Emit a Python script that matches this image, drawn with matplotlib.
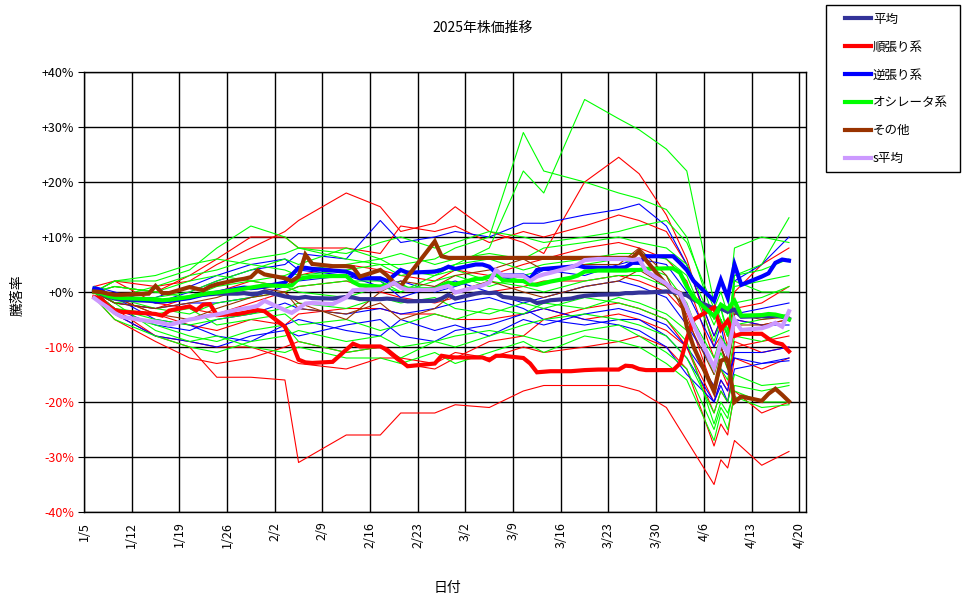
import datetime as dt
import matplotlib.pyplot as plt
from matplotlib.patches import Rectangle

plt.rcParams['font.family'] = ['Noto Sans CJK JP', 'DejaVu Sans']

# 営業日 (太線用)
days = ["1/6", "1/7", "1/8", "1/9", "1/10",
        "1/14", "1/15", "1/16", "1/17",
        "1/20", "1/21", "1/22", "1/23", "1/24",
        "1/27", "1/28", "1/29", "1/30", "1/31",
        "2/3", "2/4", "2/5", "2/6", "2/7",
        "2/10", "2/12", "2/13", "2/14",
        "2/17", "2/18", "2/19", "2/20", "2/21",
        "2/25", "2/26", "2/27", "2/28",
        "3/3", "3/4", "3/5", "3/6", "3/7",
        "3/10", "3/11", "3/12", "3/13", "3/14",
        "3/17", "3/18", "3/19", "3/21",
        "3/24", "3/25", "3/26", "3/27", "3/28",
        "3/31", "4/1", "4/2", "4/3", "4/4",
        "4/7", "4/8", "4/9", "4/10", "4/11",
        "4/14", "4/15", "4/16", "4/17", "4/18"]

heikin = [0.3, -0.3, -0.8, -1.2, -1.4,
          -1.6, -1.7, -1.7, -1.6,
          -1.0, -0.6, -0.5, -0.4, -0.3,
          -0.3, -0.2, -0.4, -0.3, 0.1,
          -0.8, -1.0, -1.1, -0.9, -1.1,
          -1.2, -0.9, -1.0, -1.3,
          -1.3, -1.2, -1.3, -1.5, -1.7,
          -1.6, -1.2, -0.5, -1.2,
          -0.3, -0.1, -0.2, -0.1, -0.9,
          -1.3, -1.4, -2.0, -1.8, -1.5,
          -1.2, -0.9, -0.7, -0.5,
          -0.4, -0.2, -0.2, -0.1, -0.1,
          0.1, 0.0, -0.3, -0.6, -1.4,
          -3.0, -3.0, -3.6, -3.2, -4.5,
          -4.4, -4.4, -4.3, -4.5, -4.9]

junbari = [-0.9, -1.2, -2.5, -3.3, -3.6,
           -3.9, -4.0, -4.3, -3.4,
           -2.6, -3.3, -2.3, -2.2, -4.2,
           -4.0, -3.8, -3.5, -3.3, -3.5,
           -6.3, -9.2, -12.3, -12.8, -12.9,
           -12.7, -10.5, -9.4, -9.9,
           -9.9, -10.5, -11.5, -12.5, -13.5,
           -13.0, -11.6, -11.8, -11.9,
           -11.9, -11.9, -12.4, -11.6, -11.6,
           -12.0, -13.0, -14.6, -14.5, -14.4,
           -14.4, -14.3, -14.2, -14.1,
           -14.1, -13.4, -13.5, -14.0, -14.2,
           -14.2, -14.2, -13.0, -8.5, -5.0,
           -2.8, -6.8, -5.2, -8.0, -7.6,
           -7.6, -8.5, -9.2, -9.5, -10.8]

gyakubari = [0.6, 0.3, -0.5, -1.0, -1.2,
             -1.5, -1.7, -1.7, -1.6,
             -1.1, -0.8, -0.5, -0.3, -0.1,
             0.6, 0.8, 0.7, 0.8, 1.0,
             1.7, 3.1, 4.4, 4.4, 4.2,
             3.9, 3.7, 3.2, 2.5,
             2.5, 2.0, 3.0, 4.0, 3.5,
             3.7, 4.0, 4.6, 4.2,
             5.0, 5.0, 4.6, 3.5, 3.0,
             3.0, 2.4, 4.0, 4.2, 4.3,
             4.6, 4.8, 4.5, 4.4,
             4.4, 4.5, 5.3, 5.3, 6.5,
             6.5, 6.5, 5.3, 4.0, 2.0,
             -1.6, 2.2, -1.0, 5.0, 1.3,
             2.8, 3.4, 5.3, 5.9, 5.7]

oscillator = [0.0, -0.2, -0.7, -1.0, -1.1,
              -1.3, -1.4, -1.5, -1.4,
              -0.9, -0.6, -0.4, -0.2, -0.1,
              0.4, 0.6, 0.8, 1.0, 1.2,
              1.1, 1.2, 2.4, 2.6, 2.8,
              2.9, 2.9, 1.8, 1.2,
              1.0, 1.2, 1.7, 1.2, 0.6,
              0.5, 1.2, 1.7, 1.4,
              2.4, 2.4, 2.8, 3.3, 2.1,
              2.0, 1.4, 1.3, 1.6, 1.9,
              2.6, 3.0, 3.7, 3.9,
              3.9, 3.9, 4.0, 4.0, 4.2,
              4.3, 4.3, 3.5, 1.0, -1.0,
              -4.4, -2.3, -3.1, -1.6, -4.3,
              -4.2, -4.0, -4.1, -4.4, -5.0]

sonota = [0.1, 0.0, -0.3, -0.5, -0.5,
          -0.3, 1.1, -0.2, -0.2,
          0.9, 0.6, 0.3, 1.0, 1.4,
          2.2, 2.4, 2.7, 3.9, 3.2,
          2.5, 2.0, 2.8, 6.8, 5.1,
          4.7, 4.7, 4.5, 2.8,
          4.0, 3.0, 1.7, 1.0, 2.8,
          9.2, 6.5, 6.2, 6.2,
          6.2, 6.2, 6.2, 6.2, 6.2,
          6.2, 6.2, 6.2, 6.2, 6.2,
          6.2, 6.2, 6.2, 6.2,
          6.2, 6.2, 6.2, 7.4, 5.8,
          1.3, 0.4, -0.2, -6.3, -10.0,
          -18.1, -12.5, -12.0, -20.0, -19.0,
          -19.8, -18.5, -17.6, -18.7, -19.9]

s_heikin = [-1.1, -2.0, -2.8, -3.8, -4.5,
            -5.3, -5.4, -5.6, -6.0,
            -5.0, -4.8, -4.5, -4.3, -4.1,
            -3.2, -3.0, -2.8, -2.5, -1.6,
            -3.3, -3.8, -3.0, -2.1, -2.0,
            -2.2, -1.0, 0.3, 0.4,
            0.5, 1.0, 1.7, 0.8, 0.4,
            0.4, 0.8, 1.1, -0.1,
            0.9, 1.2, 1.7, 4.0, 3.0,
            2.9, 2.0, 2.8, 3.2, 3.5,
            4.5, 5.0, 5.8, 6.0,
            6.0, 6.0, 5.8, 6.0, 3.8,
            1.5, 0.3, -0.3, -2.9, -6.0,
            -13.8, -9.0, -11.1, -5.0, -6.9,
            -6.6, -6.2, -5.6, -6.3, -3.5]

# 個別銘柄 (細線) の日付
thin_days = ["1/6", "1/9", "1/15", "1/20", "1/24", "1/29", "2/3", "2/5", "2/12",
             "2/17", "2/20", "2/25", "2/28", "3/5", "3/10", "3/13", "3/19", "3/24",
             "3/27", "3/31", "4/3", "4/7", "4/8", "4/9", "4/10", "4/14", "4/18"]

red_thin = [
    [0, -4, -8, -10, -15.5, -15.5, -16, -31, -26, -26, -22, -22, -20.5, -21, -18, -17, -17, -17, -18, -21, -27, -35, -30.5, -32, -27, -31.5, -29],
    [1, 2, 1, 2, 5, 8, 11, 13, 18, 15.5, 11, 12.5, 15.5, 11, 9, 7, 20, 24.5, 21.5, 14, 6, -10, -8, -12, -3, -2, 1],
    [0, 1, 0, 3, 6, 10, 10, 8, 8, 7, 12, 11, 12, 9, 11, 10, 12, 14, 13, 11, 5, -8, -5, -10, 0, 5, 8],
    [0, -2, -3, -1, 0, 2, 1, 3, 5, 4, 3, 2, 4, 3, 5, 6, 8, 9, 8, 6, 2, -12, -10, -13, -5, -6, -5],
    [-1, -5, -9, -12, -13, -12, -10, -9, -11, -10, -13, -14, -12, -9, -8, -5, -3, -2, -3, -5, -10, -20, -16, -18, -10, -9, -8],
    [1, -1, -4, -6, -7, -5, -6, -4, -3, -3, -4, -4, -5, -5, -4, -3, -5, -4, -5, -7, -10, -22, -18, -20, -12, -14, -12],
    [0, 2, -2, -3, -4, -2, 0, 1, 2, 0, -1, -2, -1, 0, 1, 2, 2, 3, 2, 0, -4, -18, -14, -17, -9, -11, -10],
    [0, -3, -8, -9, -10, -10, -12, -13, -14, -12, -12, -13, -11, -12, -10, -11, -10, -9, -8, -10, -14, -28, -24, -26, -18, -22, -20],
]

blue_thin = [
    [1, 0, -2, 0, 2, 4, 5, 7, 6, 13, 9, 10, 11, 10, 12.5, 12.5, 14, 15, 16, 12, 5, -8, -5, -8, 2, 5, 10],
    [0, -3, -6, -7, -5, -4, -2, -3, -4, -3, -4, -3, -2, -1, -3, -5, -6, -5, -5, -8, -12, -20, -16, -18, -11, -11, -10],
    [0, -2, -3, -2, -2, -1, 1, 2, 3, 1, 2, 0, 1, 3, 2, 4, 3, 5, 6, 5, 0, -10, -6, -12, -4, -3, -2],
    [1, -1, -5, -6, -8, -9, -6, -5, -7, -8, -5, -7, -6, -8, -5, -6, -4, -3, -4, -6, -10, -17, -14, -15, -12, -13, -12.5],
    [0, -1, -1, 1, 3, 5, 6, 4, 3, 2, -1, 1, 2, 0, -2, -1, 1, 2, 1, -1, -6, -14, -10, -13, -5, -6, -6],
    [-1, -4, -8, -9, -10, -8, -7, -8, -6, -5, -8, -9, -7, -6, -4, -3, -5, -6, -7, -10, -15, -20, -17, -20, -14, -13, -12],
]

green_thin = [
    [0, 1, 0, 2, 3, 2, 3, 4, 5, 6, 4, 3, 5, 8, 22, 18, 35, 31.5, 29.5, 26, 22, -2, -5, -8, 3, 5, 13.5],
    [0, -1, 1, 3, 4, 6, 7, 8, 6, 5, 5, 6, 8, 10, 29, 22, 20, 18, 17, 15, 10, -5, -3, -8, 2, 0, 0],
    [0, 2, 2, 4, 8, 12, 10, 8, 7, 9, 10, 8, 9, 11, 10, 9, 10, 11, 12, 13, 9, -3, 0, -4, 8, 10, 9],
    [0, -2, -1, 0, 2, 4, 6, 5, 8, 6, 7, 5, 6, 7, 6, 8, 9, 10, 9, 8, 5, -6, -3, -7, 3, 4, 6],
    [-1, -4, -6, -8, -9, -7, -6, -9, -11, -10, -12, -9, -10, -8, -6, -5, -4, -5, -6, -8, -12, -22, -18, -20, -15, -17, -16.5],
    [0, -3, -5, -6, -5, -4, -3, -2, -3, -1, -2, -1, -3, -4, -2, -3, -1, -2, -3, -5, -9, -24, -20, -22, -18, -20, -20],
    [0, 1, 0, -1, 1, 2, 1, 0, -1, 1, 0, 2, 3, 1, 3, 4, 5, 6, 5, 3, -2, -15, -11, -14, -6, -5, -4],
    [1, -2, -7, -9, -8, -10, -11, -10, -12, -12, -13, -11, -13, -11, -9, -11, -8, -9, -10, -13, -16, -27, -22, -25, -19, -21, -20.5],
    [0, -1, -3, -4, -2, -1, 0, 1, 2, 2, 0, 3, 4, 2, 1, 0, 2, 3, 3, 1, -3, -12, -8, -10, -2, -1, 1],
    [0, -3, -4, -3, -6, -5, -4, -6, -5, -7, -6, -4, -5, -3, -4, -2, -3, -1, -2, -4, -7, -18, -14, -16, -8, -9, -7],
    [-1, -5, -8, -10, -11, -9, -8, -7, -9, -8, -10, -9, -8, -7, -8, -9, -7, -6, -8, -11, -14, -25, -21, -23, -17, -18, -17],
    [0, 2, 3, 5, 6, 5, 4, 3, 4, 5, 3, 4, 5, 6, 4, 5, 6, 7, 7, 6, 3, -9, -5, -8, 1, 2, 3],
]

brown_thin = [
    [0, -1, -4, -5, -3, -1, 0, -2, -5, 0, 2, 1, 3, 4, 6, 4, 5, 5, 8, 3, -5, -15, -10, -14, -6, -6, -5],
    [0, -2, -3, -2, -1, 1, 0, -3, -4, -2, -5, -3, 0, 2, 0, -1, 1, 2, 4, 1, -3, -14, -10, -13, -4, -5, -4.5],
]

labels = ["平均", "順張り系", "逆張り系", "オシレータ系", "その他", "s平均"]
colors = ["#333399", "#FF0000", "#0000FF", "#00FF00", "#993300", "#CC99FF"]


def to_date(s):
    m, d = map(int, s.split("/"))
    return dt.datetime(2025, m, d, 12)


x = [to_date(s) for s in days]
xt = [to_date(s) for s in thin_days]

fig = plt.figure(figsize=(9.7, 6.04), dpi=100)
ax = fig.add_axes([84 / 970, 92 / 604, 722 / 970, 440 / 604])

for group, c in [(red_thin, "#FF0000"), (blue_thin, "#0000FF"),
                 (green_thin, "#00FF00"), (brown_thin, "#993300")]:
    for ys in group:
        ax.plot(xt, ys, color=c, lw=0.8)

handles = []
for ys, lab, c in zip([heikin, junbari, gyakubari, oscillator, sonota, s_heikin],
                      labels, colors):
    h, = ax.plot(x, ys, color=c, lw=3.0, label=lab, solid_joinstyle="miter")
    handles.append(h)

# 軸
ax.set_xlim(dt.datetime(2025, 1, 5), dt.datetime(2025, 4, 21))
ax.set_ylim(-40, 40)
ticks = [dt.datetime(2025, 1, 5) + dt.timedelta(days=7 * i) for i in range(16)]
ax.set_xticks(ticks)
ax.set_xticklabels([f"{t.month}/{t.day}" for t in ticks], rotation=90,
                   fontsize=9, va="top")
yt = list(range(-40, 41, 10))
ax.set_yticks(yt)
ax.set_yticklabels([("+" if v >= 0 else "-") + f"{abs(v)}%" for v in yt], fontsize=9)
for lab, v in zip(ax.get_yticklabels(), yt):
    if v < 0:
        lab.set_color("red")
ax.tick_params(axis="x", length=0, pad=7)
ax.tick_params(axis="y", length=4, direction="out", pad=3)
ax.grid(True, color="black", lw=1.0)
ax.set_axisbelow(True)
for sp in ax.spines.values():
    sp.set_color("black")
    sp.set_linewidth(1.0)

fig.text(483 / 970, 1 - 28 / 604, "2025年株価推移", ha="center", va="center", fontsize=10)
fig.text(447 / 970, 1 - 588 / 604, "日付", ha="center", va="center", fontsize=10)
fig.text(18 / 970, 1 - 295 / 604, "騰落率", ha="center", va="center",
         rotation=90, fontsize=10)

# 凡例
fig.patches.append(Rectangle((826 / 970, 1 - 172 / 604), 134 / 970, 167 / 604,
                             transform=fig.transFigure, fill=False,
                             edgecolor="black", lw=1.0))
fig.legend(handles=handles, loc="upper left", bbox_to_anchor=(836 / 970, 1 - 4 / 604),
           frameon=False, fontsize=9, handlelength=2.1, handletextpad=0.15,
           labelspacing=1.19, borderpad=0.2)

fig.savefig("out.png", dpi=100)
